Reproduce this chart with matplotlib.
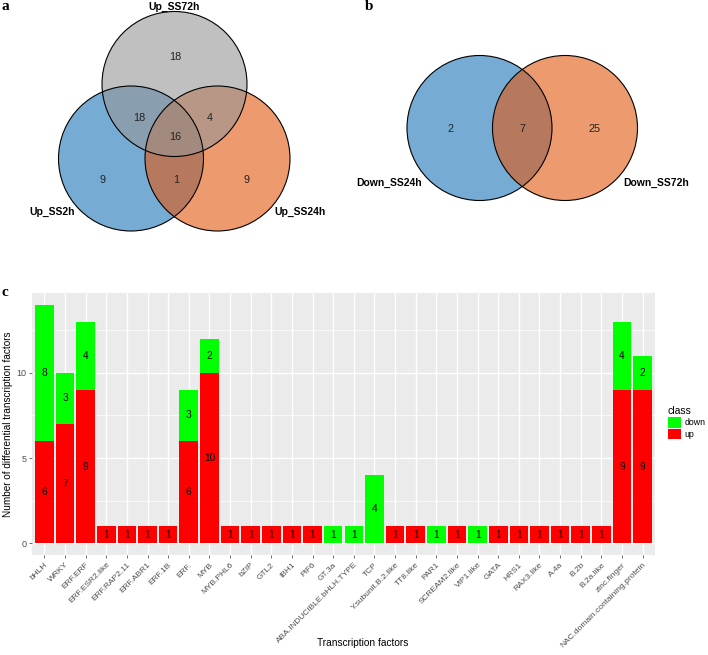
import matplotlib
matplotlib.use("Agg")
import matplotlib.pyplot as plt
import numpy as np
from matplotlib.patches import Circle, Patch

plt.rcParams.update({
    "font.family": ["Liberation Sans", "DejaVu Sans"],
})

# ---- data ----
venn_a_names = ["Up_SS2h", "Up_SS24h", "Up_SS72h"]
# regions: only 2h, only 24h, only 72h, 2h&72h, 24h&72h, 2h&24h, all
venn_a_counts = [9, 9, 18, 18, 4, 1, 16]

venn_b_names = ["Down_SS24h", "Down_SS72h"]
# regions: only 24h, both, only 72h
venn_b_counts = [2, 7, 25]

tf_names = [
    "bHLH", "WRKY", "ERF.ERF", "ERF.ESR2.like", "ERF.RAP2.11", "ERF.ABR1",
    "ERF.1B", "ERF.", "MYB", "MYB.PHL6", "bZIP", "GTL2", "IBH1", "PIF6",
    "GT.3a", "ABA.INDUCIBLE.bHLH.TYPE", "TCP", "Y.subunit.B.2.like",
    "TT8.like", "PAR1", "SCREAM2.like", "VIP1.like", "GATA", "HRS1",
    "RAX3.like", "A.4a", "B.2b", "B.2a.like", "zinc.finger",
    "NAC.domain.containing.protein",
]
up_counts = [6, 7, 9, 1, 1, 1, 1, 6, 10, 1, 1, 1, 1, 1,
             0, 0, 0, 1, 1, 0, 1, 0, 1, 1, 1, 1, 1, 1, 9, 9]
down_counts = [8, 3, 4, 0, 0, 0, 0, 3, 2, 0, 0, 0, 0, 0,
               1, 1, 4, 0, 0, 1, 0, 1, 0, 0, 0, 0, 0, 0, 4, 2]

UP_COL = "#FF0000"
DOWN_COL = "#00FF00"
BLUE = "#1B75B6"
ORANGE = "#E4570F"
GREY = "#969696"

W, H = 708, 655
fig = plt.figure(figsize=(W / 100, H / 100), dpi=100)

# overlay axes in pixel coordinates for venns + panel letters
ov = fig.add_axes([0, 0, 1, 1])
ov.set_xlim(0, W)
ov.set_ylim(H, 0)
ov.axis("off")


def circle(ax, xy, r, color):
    ax.add_patch(Circle(xy, r, facecolor=color, alpha=0.6, edgecolor="none"))


def outline(ax, xy, r):
    ax.add_patch(Circle(xy, r, facecolor="none", edgecolor="black", linewidth=0.8))


# ---- Venn a ----
r = 72.5
ca = {"2h": (131, 158.5), "24h": (217.5, 158.5), "72h": (174.5, 84)}
circle(ov, ca["2h"], r, BLUE)
circle(ov, ca["24h"], r, ORANGE)
circle(ov, ca["72h"], r, GREY)
for c in ca.values():
    outline(ov, c, r)

pos_a = [(103, 180), (247, 180), (175, 57), (139, 118), (210, 118), (176, 180), (175, 137)]
for (x, y), v in zip(pos_a, venn_a_counts):
    ov.text(x, y, str(v), ha="center", va="center", fontsize=7.8, color="#222222")
ov.text(52, 212, venn_a_names[0], ha="center", va="center", fontsize=7.5, fontweight="bold")
ov.text(300, 212, venn_a_names[1], ha="center", va="center", fontsize=7.5, fontweight="bold")
ov.text(174, 7, venn_a_names[2], ha="center", va="center", fontsize=7.5, fontweight="bold")

# ---- Venn b ----
cb = [(479.5, 128), (565, 128)]
circle(ov, cb[0], r, BLUE)
circle(ov, cb[1], r, ORANGE)
for c in cb:
    outline(ov, c, r)
pos_b = [(451, 129), (523, 129), (595, 129)]
for (x, y), v in zip(pos_b, venn_b_counts):
    ov.text(x, y, str(v), ha="center", va="center", fontsize=7.8, color="#222222")
ov.text(422, 183, venn_b_names[0], ha="right", va="center", fontsize=7.5, fontweight="bold")
ov.text(623, 183, venn_b_names[1], ha="left", va="center", fontsize=7.5, fontweight="bold")

# panel letters
for lab, x, y in [("a", 1, 7), ("b", 365, 7), ("c", 1, 292)]:
    ov.text(x, y, lab, ha="left", va="center", fontsize=11, fontweight="bold",
            family="Liberation Serif")

# ---- bar chart c ----
ax = fig.add_axes([32 / W, 1 - 555 / H, (655 - 32) / W, (555 - 293) / H])
ax.set_facecolor("#EBEBEB")
x = np.arange(len(tf_names))
up = np.array(up_counts)
down = np.array(down_counts)
ax.bar(x, up, width=0.9, color=UP_COL, zorder=3)
ax.bar(x, down, width=0.9, bottom=up, color=DOWN_COL, zorder=3)
for i in x:
    if up[i] > 0:
        ax.text(i, up[i] / 2, str(up[i]), ha="center", va="center", fontsize=7.3, zorder=4)
    if down[i] > 0:
        ax.text(i, up[i] + down[i] / 2, str(down[i]), ha="center", va="center", fontsize=7.3, zorder=4)

ymax = (up + down).max()
ax.set_ylim(-0.05 * ymax, ymax * 1.05)
ax.set_xlim(-0.6, len(tf_names) - 0.4)
ax.set_yticks([0, 5, 10])
ax.set_yticks([2.5, 7.5, 12.5], minor=True)
ax.set_xticks(x)
ax.set_xticklabels(tf_names, rotation=45, ha="right", rotation_mode="anchor",
                   fontsize=6, color="#4D4D4D")
ax.tick_params(axis="y", labelsize=6.5, labelcolor="#4D4D4D", color="#333333", length=2.5, width=0.5, pad=1.5)
ax.tick_params(axis="x", color="#333333", length=2.5, width=0.5, pad=2)
ax.tick_params(axis="y", which="minor", length=0)
ax.grid(True, which="major", color="white", linewidth=1.0, zorder=0)
ax.grid(True, which="minor", axis="y", color="white", linewidth=0.5, zorder=0)
ax.set_axisbelow(True)
for s in ax.spines.values():
    s.set_visible(False)
ax.set_xlabel("Transcription factors", fontsize=7.3)
ax.xaxis.set_label_coords(0.53, -0.315)
ax.set_ylabel("Number of differential transcription factors", fontsize=7.2)
ax.yaxis.set_label_coords(-0.031, 0.5)

handles = [Patch(facecolor=DOWN_COL, edgecolor="none", label="down"),
           Patch(facecolor=UP_COL, edgecolor="none", label="up")]
leg = fig.legend(handles=handles, title="class", loc="upper left",
                 bbox_to_anchor=(660 / W, 1 - 398 / H), frameon=False, fontsize=6.3,
                 title_fontsize=7.5, handlelength=1.5, handleheight=1.5,
                 handletextpad=0.4, labelspacing=0.12)
leg._legend_box.align = "left"

fig.savefig("out.png", dpi=100)
